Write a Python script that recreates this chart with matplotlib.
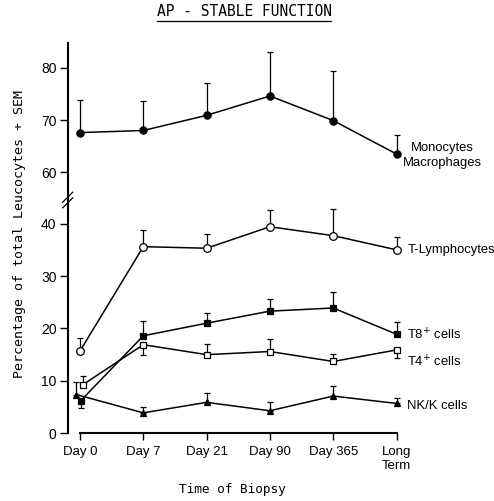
import numpy as np
import matplotlib
matplotlib.use('Agg')
import matplotlib.pyplot as plt

plt.rcParams['font.family'] = ['Liberation Sans', 'DejaVu Sans']

# data
days = ['Day 0', 'Day 7', 'Day 21', 'Day 90', 'Day 365', 'Long\nTerm']

mono = [67.6, 68.0, 70.9, 74.6, 69.9, 63.5]
mono_up = [6.3, 5.7, 6.1, 8.4, 9.5, 3.6]

tlym = [15.7, 35.6, 35.3, 39.4, 37.7, 35.0]
tlym_up = [2.4, 3.2, 2.7, 3.2, 5.0, 2.5]

t8 = [6.2, 18.6, 21.0, 23.3, 23.9, 18.9]
t8_up = [0, 2.8, 2.0, 2.4, 3.1, 2.3]
t8_down = [1.3, 0, 0, 0, 0, 0]

t4 = [9.3, 16.9, 15.0, 15.6, 13.7, 15.9]
t4_up = [1.6, 0, 2.0, 2.3, 1.4, 0]
t4_down = [0, 2.0, 0, 0, 0, 1.6]

nk = [7.4, 3.9, 5.9, 4.3, 7.1, 5.7]
nk_up = [2.3, 1.2, 1.7, 1.6, 1.9, 1.1]

x = np.arange(len(days), dtype=float)

fig = plt.figure(figsize=(4.94, 5.01), dpi=100)
W, H = 494.0, 501.0
step = 63.3          # pixels between two days
x0 = 80.0            # pixel of Day 0
left, right = 67.7, 480.0
y_zero, y_break, y_top = 433.3, 200.0, 42.7
ax_lo = fig.add_axes([left / W, 1 - y_zero / H, (right - left) / W, (y_zero - y_break) / H])
ax_hi = fig.add_axes([left / W, 1 - y_break / H, (right - left) / W, (y_break - y_top) / H])

xlim = ((left - x0) / step, (right - x0) / step)
ax_lo.set_xlim(xlim)
ax_hi.set_xlim(xlim)
ax_lo.set_ylim(0, 44.5)
ax_hi.set_ylim(54.7, 84.8)


def draw(ax, vals, up, down, marker, filled, ms, shift=0.0):
    vals = np.asarray(vals, dtype=float)
    up = np.asarray(up, dtype=float)
    down = np.zeros_like(vals) if down is None else np.asarray(down, dtype=float)
    xs = x.copy()
    xs[0] += shift
    for i in range(len(xs)):
        if up[i] > 0:
            ax.errorbar(xs[i], vals[i], yerr=[[0], [up[i]]], fmt='none',
                        ecolor='black', elinewidth=0.9, capsize=2.2, capthick=0.9, zorder=2)
        if down[i] > 0:
            ax.errorbar(xs[i], vals[i], yerr=[[down[i]], [0]], fmt='none',
                        ecolor='black', elinewidth=0.9, capsize=2.2, capthick=0.9, zorder=2)
    ax.plot(xs, vals, color='black', lw=1.1, marker=marker, ms=ms,
            mfc='black' if filled else 'white', mec='black', mew=0.9,
            zorder=3, clip_on=False)


draw(ax_hi, mono, mono_up, None, 'o', True, 5.2)
draw(ax_lo, tlym, tlym_up, None, 'o', False, 5.5)
draw(ax_lo, t8, t8_up, t8_down, 's', True, 4.2, 0.01)
draw(ax_lo, t4, t4_up, t4_down, 's', False, 4.4, 0.05)
draw(ax_lo, nk, nk_up, None, '^', True, 5.0, -0.06)

# axes styling
for ax in (ax_lo, ax_hi):
    ax.spines['right'].set_visible(False)
    ax.spines['top'].set_visible(False)
    ax.spines['left'].set_linewidth(1.5)
    ax.tick_params(axis='y', direction='out', length=6, width=1, labelsize=10, pad=2)
    ax.patch.set_alpha(0)
ax_hi.spines['bottom'].set_visible(False)
ax_hi.tick_params(axis='x', bottom=False, labelbottom=False)
ax_hi.set_yticks([60, 70, 80])
ax_lo.set_yticks([0, 10, 20, 30, 40])
ax_lo.spines['bottom'].set_linewidth(1.5)
ax_lo.spines['bottom'].set_bounds(0, 5)
ax_lo.set_xticks(x)
ax_lo.set_xticklabels(days, fontsize=9.5, linespacing=1.2)
ax_lo.tick_params(axis='x', direction='out', length=5, width=1, pad=4)

# break marks on the y axis
tr = ax_lo.transAxes
dx, dy = 5 / (right - left), 5 / (y_zero - y_break)
for off in (-0.012, 0.012):
    ax_lo.plot([-dx, dx], [1 + off - dy, 1 + off + dy], transform=tr,
               color='black', lw=0.9, clip_on=False)

# series labels
lab = dict(fontsize=9.4, ha='left', va='center')
ax_hi.text(5.1, 63.2, 'Monocytes\nMacrophages', linespacing=1.25,
           multialignment='center', **lab)
ax_lo.text(5.18, 34.9, 'T-Lymphocytes', **lab)
ax_lo.text(5.17, 18.8, 'T8$^{+}$ cells', **lab)
ax_lo.text(5.17, 13.7, 'T4$^{+}$ cells', **lab)
ax_lo.text(5.17, 5.2, 'NK/K cells', **lab)

# titles
fig.text(244 / W, 1 - 12 / H, 'AP - STABLE FUNCTION', family='DejaVu Sans Mono',
         fontsize=10.5, ha='center', va='center')
fig.add_artist(plt.Line2D([157 / W, 331 / W], [1 - 21 / H, 1 - 21 / H],
                          color='black', lw=0.9))
fig.text(20 / W, 1 - 234 / H, 'Percentage of total Leucocytes + SEM',
         family='DejaVu Sans Mono', fontsize=9.6, rotation=90, ha='center', va='center')
fig.text(232 / W, 1 - 490 / H, 'Time of Biopsy', family='DejaVu Sans Mono',
         fontsize=9.2, ha='center', va='center')

fig.savefig('out.png', dpi=100)
